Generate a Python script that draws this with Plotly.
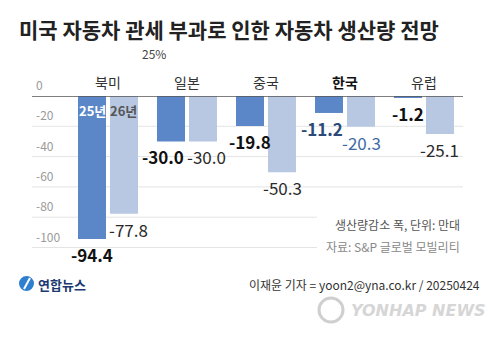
import plotly.graph_objects as go

# ---- data ----
categories = ["북미", "일본", "중국", "한국", "유럽"]
series_names = ["25년", "26년"]
values_25 = [-94.4, -30.0, -19.8, -11.2, -1.2]
values_26 = [-77.8, -30.0, -50.3, -20.3, -25.1]
y_ticks = [0, -20, -40, -60, -80, -100]

title = "미국 자동차 관세 부과로 인한 자동차 생산량 전망"
subtitle = "25%"
note1 = "생산량감소 폭, 단위: 만대"
note2 = "자료: S&P 글로벌 모빌리티"
byline = "이재윤 기자 = yoon2@yna.co.kr / 20250424"

# ---- styles ----
W, H = 500, 345
L, R, T, B = 32, 463, 96, 260
FONT = "Noto Sans CJK KR"
C25 = "#5b87c8"
C26 = "#b8c8e2"
GRID = "#e4e4e4"

def px_x(x):
    return (x - L) / (R - L)

def px_y(y):
    return (B - y) / (B - T)

x_idx = list(range(len(categories)))
OFF = 0.2025

fig = go.Figure()
fig.add_trace(go.Bar(x=x_idx, y=values_25, name=series_names[0], marker_color=C25,
                     marker_line_width=0))
fig.add_trace(go.Bar(x=x_idx, y=values_26, name=series_names[1], marker_color=C26,
                     marker_line_width=0))

ann = []
shapes = []

# gridlines and tick labels
for t in y_ticks:
    if t == 0:
        continue
    x1 = 1.0 if t > -70 else px_x(317)
    shapes.append(dict(type="line", xref="paper", yref="y", x0=0, x1=x1, y0=t, y1=t,
                       line=dict(color=GRID, width=1), layer="below"))
for t in y_ticks:
    ann.append(dict(xref="paper", yref="y", x=0, y=t, text=str(t), showarrow=False,
                    xanchor="left", yanchor="bottom", xshift=2, yshift=1,
                    font=dict(family=FONT, size=12, color="#9a9a9a")))
# zero line
shapes.append(dict(type="line", xref="paper", yref="y", x0=0, x1=1, y0=0, y1=0,
                   line=dict(color="#555555", width=1.5)))

# category labels
for i, c in enumerate(categories):
    bold = c == "한국"
    ann.append(dict(x=i, y=0, xref="x", yref="y", text=f"<b>{c}</b>" if bold else c,
                    showarrow=False, yanchor="bottom", yshift=2,
                    font=dict(family=FONT, size=14, color="#111" if bold else "#333")))

# value labels
shift25 = [0, -8, 0, -7, 0]
shift26 = [5, 4, 1, 1, 0]
col25 = ["#111", "#111", "#111", "#2b4a78", "#111"]
col26 = ["#2a2a2a", "#2a2a2a", "#2a2a2a", "#3d6aa5", "#2a2a2a"]
for i in x_idx:
    ann.append(dict(x=i - OFF, y=values_25[i], xref="x", yref="y",
                    text=f"<b>{values_25[i]:.1f}</b>", showarrow=False, yanchor="top",
                    yshift=-1, xshift=shift25[i],
                    font=dict(family=FONT, size=17, color=col25[i])))
    ann.append(dict(x=i + OFF, y=values_26[i], xref="x", yref="y",
                    text=f"{values_26[i]:.1f}", showarrow=False, yanchor="top",
                    yshift=-1, xshift=shift26[i],
                    font=dict(family=FONT, size=17, color=col26[i])))

# series labels inside first group
ann.append(dict(x=0 - OFF, y=0, xref="x", yref="y", text=f"<b>{series_names[0]}</b>",
                showarrow=False, yanchor="top", yshift=-3,
                font=dict(family=FONT, size=13, color="white")))
ann.append(dict(x=0 + OFF, y=0, xref="x", yref="y", text=f"<b>{series_names[1]}</b>",
                showarrow=False, yanchor="top", yshift=-3,
                font=dict(family=FONT, size=13, color="#555")))

# title etc
ann.append(dict(xref="paper", yref="paper", x=px_x(17), y=px_y(29), text=f"<b>{title}</b>",
                showarrow=False, xanchor="left", yanchor="middle",
                font=dict(family=FONT, size=21, color="#222")))
ann.append(dict(xref="paper", yref="paper", x=px_x(154), y=px_y(53), text=subtitle,
                showarrow=False, xanchor="center", yanchor="middle",
                font=dict(family=FONT, size=12, color="#444")))
ann.append(dict(xref="paper", yref="paper", x=px_x(462), y=px_y(224), text=note1,
                showarrow=False, xanchor="right", yanchor="middle",
                font=dict(family=FONT, size=12, color="#555")))
ann.append(dict(xref="paper", yref="paper", x=px_x(462), y=px_y(246), text=note2,
                showarrow=False, xanchor="right", yanchor="middle",
                font=dict(family=FONT, size=12, color="#888")))
ann.append(dict(xref="paper", yref="paper", x=px_x(482), y=px_y(284), text=byline,
                showarrow=False, xanchor="right", yanchor="middle",
                font=dict(family=FONT, size=12, color="#333")))
# logo
shapes.append(dict(type="circle", xref="paper", yref="paper",
                   x0=px_x(19), x1=px_x(34), y0=px_y(291), y1=px_y(276),
                   fillcolor="#2f7fd0", line=dict(width=0)))
shapes.append(dict(type="line", xref="paper", yref="paper",
                   x0=px_x(24), x1=px_x(30), y0=px_y(289), y1=px_y(278),
                   line=dict(color="white", width=2)))
ann.append(dict(xref="paper", yref="paper", x=px_x(36), y=px_y(284), text="<b>연합뉴스</b>",
                showarrow=False, xanchor="left", yanchor="middle",
                font=dict(family=FONT, size=13, color="#1c3a70")))
# watermark
shapes.append(dict(type="circle", xref="paper", yref="paper",
                   x0=px_x(319), x1=px_x(343), y0=px_y(322), y1=px_y(298),
                   fillcolor="rgba(0,0,0,0)", line=dict(color="#cfcfcf", width=3)))
ann.append(dict(xref="paper", yref="paper", x=px_x(488), y=px_y(310),
                text="<b><i>YONHAP NEWS</i></b>", showarrow=False, xanchor="right",
                yanchor="middle", font=dict(family="DejaVu Sans", size=16, color="#d6d6d6")))

fig.update_layout(
    width=W, height=H,
    margin=dict(l=L, r=W - R, t=T, b=H - B),
    paper_bgcolor="white", plot_bgcolor="white",
    barmode="group", bargap=0.19, bargroupgap=0.125,
    showlegend=False,
    xaxis=dict(range=[-0.962, 4.494], showticklabels=False, showgrid=False,
               zeroline=False, showline=False, fixedrange=True),
    yaxis=dict(range=[-(B - T) / 1.515, 0], showticklabels=False, showgrid=False,
               zeroline=False, showline=False, fixedrange=True),
    annotations=ann, shapes=shapes,
)

fig.write_html("out.html")
